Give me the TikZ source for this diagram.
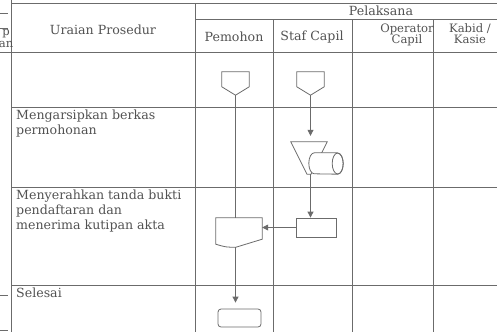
\documentclass[tikz,border=0pt]{standalone}
\usepackage{fontspec}
\setmainfont{DejaVu Serif}
\usetikzlibrary{arrows.meta,calc}

\definecolor{scanLine}{gray}{.42}
\definecolor{scanText}{gray}{.32}

\tikzset{
  gridline/.style={draw=scanLine,line width=.7pt},
  flowline/.style={draw=scanLine,line width=.8pt},
  flowarrow/.style={flowline,-{Triangle[width=6pt,length=6pt]}},
  txt/.style={text=scanText,inner sep=0pt,align=left,font=\fontsize{12.6}{15}\selectfont},
  hdr/.style={txt,align=center,font=\fontsize{12.6}{12}\selectfont},
  smallhdr/.style={txt,align=center,font=\fontsize{11.6}{11.5}\selectfont},
  box/.style={flowline,fill=white,rectangle,inner sep=0pt},
  plainbox/.style={rectangle,inner sep=0pt}
}

\begin{document}
\begin{tikzpicture}[x=1pt,y=-1pt]
\useasboundingbox (0,0) rectangle (497,332);

% table
\draw[gridline] (11,3) -- (497,3);
\draw[gridline] (195,19) -- (497,19);
\draw[gridline] (0,52) -- (497,52);
\draw[gridline] (11,107) -- (497,107);
\draw[gridline] (11,187) -- (497,187);
\draw[gridline] (11,285) -- (497,285);
\draw[gridline] (11,0) -- (11,332);
\draw[gridline] (195,3) -- (195,332);
\draw[gridline] (273.5,19) -- (273.5,332);
\draw[gridline] (352,19) -- (352,332);
\draw[gridline] (433,19) -- (433,332);
\draw[gridline] (0,13) -- (8,13);
\draw[gridline] (0,28) -- (8,28);
\draw[gridline] (0,295) -- (8,295);
\draw[gridline] (0,330) -- (8,330);

% header
\node[smallhdr,anchor=east] (tahapA) at (10,34) {p};
\node[smallhdr,anchor=east] (tahapB) at (13.5,44) {an};
\node[hdr] (uraian) at (103,30) {Uraian Prosedur};
\node[hdr] (pelaksana) at (381,11) {Pelaksana};
\node[hdr] (pemohon) at (234,37) {Pemohon};
\node[hdr] (staf) at (312,37) {Staf Capil};
\node[smallhdr,anchor=north] (operator) at (407,23.5) {Operator\\Capil};
\node[smallhdr,anchor=north] (kabid) at (470,23) {Kabid /\\Kasie};

% uraian
\node[txt,anchor=north west] (langkahA) at (16,110) {Mengarsipkan berkas\\permohonan};
\node[txt,anchor=north west] (langkahB) at (16,190) {Menyerahkan tanda bukti\\pendaftaran dan\\menerima kutipan akta};
\node[txt,anchor=north west] (langkahC) at (16,288) {Selesai};

% flow
\node[plainbox,minimum width=27pt,minimum height=23pt] (pemA) at (235.5,83.5) {};
\draw[flowline,fill=white] (pemA.north west) -- (pemA.north east) -- ($(pemA.north east)+(0,15)$)
  -- (pemA.south) -- ($(pemA.north west)+(0,15)$) -- cycle;
\node[plainbox,minimum width=27pt,minimum height=23pt] (stafA) at (310.5,83.5) {};
\draw[flowline,fill=white] (stafA.north west) -- (stafA.north east) -- ($(stafA.north east)+(0,15)$)
  -- (stafA.south) -- ($(stafA.north west)+(0,15)$) -- cycle;
\node[plainbox,minimum width=36pt,minimum height=32pt] (arsip) at (309,158) {};
\draw[flowline,fill=white] (arsip.north west) -- (arsip.north east)
  -- ($(arsip.south)+(2,0)$) -- ($(arsip.south)+(-2,0)$) -- cycle;
\node[plainbox,minimum width=34pt,minimum height=21pt] (simpan) at (326,163.5) {};
\draw[flowline,fill=white] ($(simpan.north east)+(-5.5,0)$) -- ($(simpan.north west)+(5.5,0)$)
  arc[start angle=-90,end angle=-270,x radius=5.5,y radius=10.5]
  -- ($(simpan.south east)+(-5.5,0)$)
  arc[start angle=90,end angle=-90,x radius=5.5,y radius=10.5];
\draw[flowline] ($(simpan.east)+(-5.5,0)$) ellipse[x radius=5.5,y radius=10.5];
\node[box,minimum width=40pt,minimum height=19pt] (stafB) at (316,227.5) {};
\node[plainbox,minimum width=46pt,minimum height=29pt] (tanda) at (239,232.5) {};
\draw[flowline,fill=white] (tanda.north west) -- (tanda.north east)
  -- ($(tanda.south east)+(0,-8)$) -- ($(tanda.south)+(-3,0)$)
  .. controls ($(tanda.south west)+(10,0)$) .. ($(tanda.south west)+(0,-3)$) -- cycle;
\node[box,rounded corners=3pt,minimum width=43pt,minimum height=18pt] (selesai) at (239.5,318) {};

\draw[flowline] (pemA.south) -- (pemA.south |- tanda.north);
\draw[flowarrow,shorten >=6pt] (stafA.south) -- (stafA.south |- arsip.north);
\draw[flowarrow] (stafA.south |- arsip.south) -- (stafA.south |- stafB.north);
\draw[flowarrow] (stafB.west) -- (stafB.west -| tanda.east);
\draw[flowarrow,shorten >=6pt] (pemA.south |- tanda.south) -- (pemA.south |- selesai.north);
\end{tikzpicture}
\end{document}
